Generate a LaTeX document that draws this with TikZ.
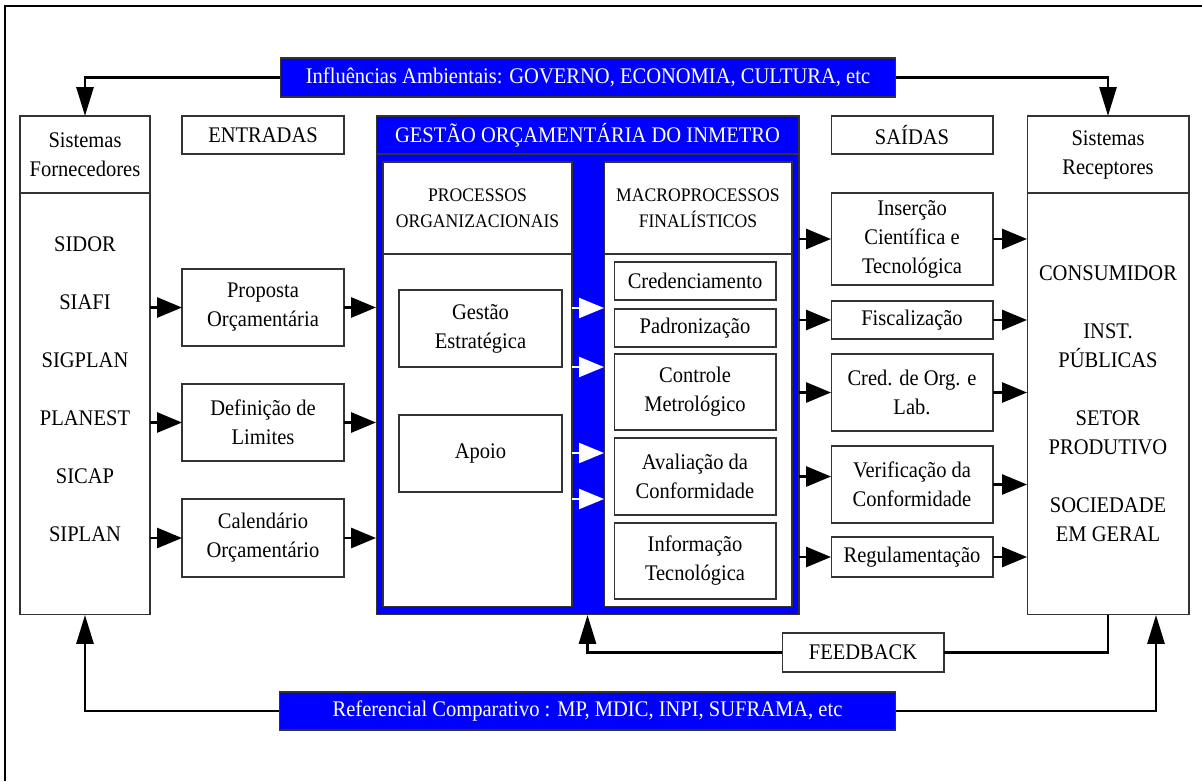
\documentclass[tikz,border=0pt]{standalone}
\usepackage{fontspec}
\setmainfont{Liberation Serif}[FakeStretch=0.92]
\usetikzlibrary{arrows.meta,positioning}
\newcommand\boxfont{\fontsize{12.7}{16.5}\selectfont}
\newcommand\headfont{\fontsize{10.9}{14.6}\selectfont}
\tikzset{
  box/.style     = {rectangle, draw=black!80, line width=0.6pt, fill=white,
                    align=center, inner sep=2pt, outer sep=0pt,
                    minimum width=3.24cm, font=\boxfont},
  head/.style    = {box, minimum width=#1, font=\headfont},
  bluebox/.style = {rectangle, draw=black!80, line width=0.6pt, fill=blue,
                    text=white, align=center, inner sep=2pt, outer sep=0pt,
                    font=\boxfont},
  flow/.style    = {-{Triangle[length=0.5cm,width=0.4cm]}, line width=1.6pt},
  feed/.style    = {-{Triangle[length=0.58cm,width=0.34cm]}, line width=1.6pt},
  wflow/.style   = {flow, draw=white, line width=1.2pt},
  plain/.style   = {line width=1.6pt},
}
\begin{document}
\begin{tikzpicture}[x=0.02cm, y=-0.02cm]
  \useasboundingbox (0,0) rectangle (1202,781);
  \draw[line width=1.2pt] (5,781) -- (5,6) -- (1202,6);

  % environment
  \node[bluebox, minimum width=12.32cm, minimum height=0.78cm] (infl) at (588,77.5)
       {Influências Ambientais: GOVERNO, ECONOMIA, CULTURA, etc};

  % suppliers
  \node[box, minimum width=2.6cm, minimum height=1.54cm] (sfhead) at (85,154.5)
       {Sistemas\\ Fornecedores};
  \node[box, minimum width=2.6cm, minimum height=8.44cm, below=0pt of sfhead] (sfbody) {};
  \node[font=\boxfont, align=center] (sflist) at (85,389.5)
       {SIDOR\\[16.5pt] SIAFI\\[16.5pt] SIGPLAN\\[16.5pt] PLANEST\\[16.5pt] SICAP\\[16.5pt] SIPLAN};

  % inputs
  \node[box, minimum height=0.76cm] (entr) at (263,135) {ENTRADAS};
  \node[box, minimum height=1.54cm] (prop) at (263,307.5) {Proposta\\ Orçamentária};
  \node[box, minimum height=1.54cm] (defl) at (263,422.5) {Definição de\\ Limites};
  \node[box, minimum height=1.56cm] (cal) at (263,538) {Calendário\\ Orçamentário};

  % central block
  \node[bluebox, minimum width=8.46cm, minimum height=0.76cm] (gtitle) at (587.5,135)
       {GESTÃO ORÇAMENTÁRIA DO INMETRO};
  \node[bluebox, minimum width=8.46cm, minimum height=9.22cm, below=0pt of gtitle] (gbody) {};
  \node[head=3.78cm, minimum height=1.84cm] (orghead) at (477.5,208)
       {PROCESSOS\\ ORGANIZACIONAIS};
  \node[box, minimum width=3.78cm, minimum height=7.06cm, below=0pt of orghead] (orgbody) {};
  \node[head=3.76cm, minimum height=1.84cm] (machead) at (698,208)
       {MACROPROCESSOS\\ FINALÍSTICOS};
  \node[box, minimum width=3.76cm, minimum height=7.06cm, below=0pt of machead] (macbody) {};
  \node[box, minimum width=3.26cm, minimum height=1.54cm] (gest) at (480.5,328.5)
       {Gestão\\ Estratégica};
  \node[box, minimum width=3.26cm, minimum height=1.54cm] (apoio) at (480.5,453.5) {Apoio};
  \node[box, minimum height=0.76cm] (cred) at (695,281) {Credenciamento};
  \node[box, minimum height=0.76cm] (padr) at (695,328) {Padronização};
  \node[box, minimum height=1.52cm] (ctrl) at (695,392) {Controle\\ Metrológico};
  \node[box, minimum height=1.54cm] (aval) at (695,476.5) {Avaliação da\\ Conformidade};
  \node[box, minimum height=1.52cm] (info) at (695,561) {Informação\\ Tecnológica};

  % outputs
  \node[box, minimum height=0.76cm] (said) at (912,135) {SAÍDAS};
  \node[box, minimum height=1.84cm] (ins) at (912,239) {Inserção\\ Científica e\\ Tecnológica};
  \node[box, minimum height=0.76cm] (fisc) at (912,320) {Fiscalização};
  \node[box, minimum height=1.54cm] (corg) at (912,392.5) {Cred. de Org. e\\ Lab.};
  \node[box, minimum height=1.54cm] (verif) at (912,484.5) {Verificação da\\ Conformidade};
  \node[box, minimum height=0.8cm] (regul) at (912,557) {Regulamentação};

  % receivers
  \node[box, minimum height=1.54cm] (srhead) at (1108,154.5) {Sistemas\\ Receptores};
  \node[box, minimum height=8.44cm, below=0pt of srhead] (srbody)
       {CONSUMIDOR\\[16.5pt] INST.\\ PÚBLICAS\\[16.5pt] SETOR\\ PRODUTIVO\\[16.5pt] SOCIEDADE\\ EM GERAL};

  \node[box, minimum height=0.78cm] (fb) at (863,652.5) {FEEDBACK};
  \node[bluebox, minimum width=12.34cm, minimum height=0.76cm] (refc) at (587.5,711)
       {Referencial Comparativo : MP, MDIC, INPI, SUFRAMA, etc};

  % connectors
  \draw[feed] (infl.west) -| (sfhead.north);
  \draw[feed] (infl.east) -| (srhead.north);
  \foreach \n in {prop,defl,cal}{
    \draw[flow] (sfbody.east |- \n) -- (\n);
    \draw[flow] (\n) -- (\n -| gbody.west);
  }
  \foreach \y in {308,367,453,499}
    \draw[wflow] (orgbody.east |- 0,\y) -- (macbody.west |- 0,\y);
  \foreach \n in {ins,fisc,corg,regul}
    \draw[flow] (gbody.east |- \n) -- (\n);
  \draw[flow] (gbody.east |- aval) -- (aval -| verif.west);
  \foreach \n in {ins,fisc,corg,verif,regul}
    \draw[flow] (\n) -- (\n -| srbody.west);
  \draw[plain] (srbody.south) |- (fb.east);
  \draw[feed] (fb.west) -| (gbody.south);
  \draw[feed] (refc.west) -| (sfbody.south);
  \draw[feed] (refc.east) -| ([xshift=0.96cm]srbody.south);
\end{tikzpicture}
\end{document}
